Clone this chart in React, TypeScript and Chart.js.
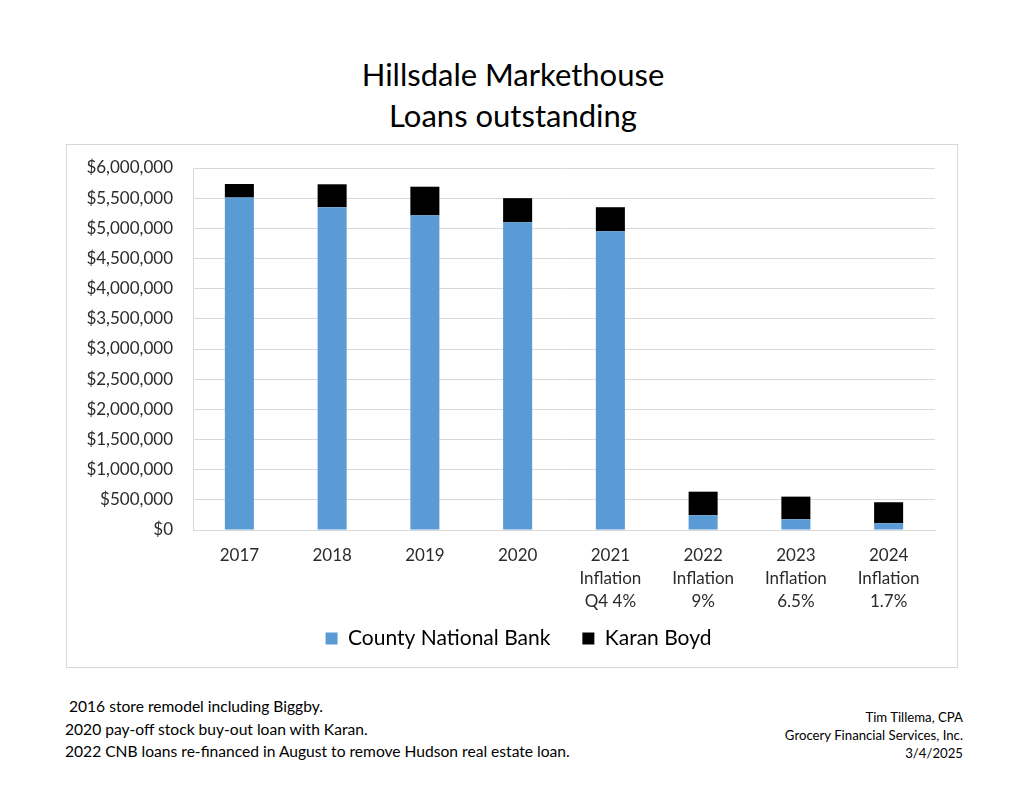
import React, { useEffect, useRef } from "react";
import { Chart, registerables } from "chart.js";

Chart.register(...registerables);

const FONT = "Lato, 'Open Sans', sans-serif";

const titleLines = ["Hillsdale Markethouse", "Loans outstanding"];

const categories: string[][] = [
  ["2017"],
  ["2018"],
  ["2019"],
  ["2020"],
  ["2021", "Inflation", "Q4 4%"],
  ["2022", "Inflation", "9%"],
  ["2023", "Inflation", "6.5%"],
  ["2024", "Inflation", "1.7%"],
];

const countyNationalBank = [5510000, 5350000, 5215000, 5100000, 4950000, 245000, 178000, 112000];
const karanBoyd = [225000, 380000, 475000, 400000, 400000, 390000, 375000, 348000];

const yMin = 0;
const yMax = 6000000;
const yStep = 500000;

const notesLeft = [
  " 2016 store remodel including Biggby.",
  "2020 pay-off stock buy-out loan with Karan.",
  "2022 CNB loans re-financed in August to remove Hudson real estate loan.",
];

const notesRight = ["Tim Tillema, CPA", "Grocery Financial Services, Inc.", "3/4/2025"];

const CW = 892;
const CH = 524;
const X_AXIS_H = 88;
const LEGEND_SHIFT_Y = -22;
const LEGEND_SHIFT_X = 18;

const legendShift = {
  id: "legendShift",
  afterLayout(chart: any) {
    const l = chart.legend;
    if (!l) return;
    l.top += LEGEND_SHIFT_Y;
    l.bottom += LEGEND_SHIFT_Y;
    l.left += LEGEND_SHIFT_X;
    l.right += LEGEND_SHIFT_X;
  },
};

export default function App() {
  const canvasRef = useRef<HTMLCanvasElement | null>(null);

  useEffect(() => {
    const canvas = canvasRef.current;
    if (!canvas) return;
    const chart = new Chart(canvas, {
      type: "bar",
      data: {
        labels: categories,
        datasets: [
          {
            label: "County National Bank",
            data: countyNationalBank,
            backgroundColor: "#5B9BD5",
            borderWidth: 0,
          },
          {
            label: "Karan Boyd",
            data: karanBoyd,
            backgroundColor: "#000000",
            borderWidth: 0,
          },
        ],
      },
      plugins: [legendShift],
      options: {
        animation: false,
        responsive: false,
        maintainAspectRatio: false,
        devicePixelRatio: 1,
        layout: { padding: { left: 0, right: 23, top: 24, bottom: CH - 24 - 362 - X_AXIS_H - 63 } },
        datasets: { bar: { categoryPercentage: 1, barPercentage: 0.313 } },
        scales: {
          x: {
            stacked: true,
            grid: { display: false, drawTicks: false },
            border: { display: true, color: "#d9d9d9", width: 1 },
            ticks: {
              font: { family: FONT, size: 17, lineHeight: 1.35 },
              color: "#2b2b2b",
              padding: 14,
              maxRotation: 0,
              autoSkip: false,
            },
            afterFit: (scale: any) => {
              scale.height = X_AXIS_H;
            },
          },
          y: {
            stacked: true,
            min: yMin,
            max: yMax,
            grid: {
              color: "#d9d9d9",
              lineWidth: 1,
              drawTicks: true,
              tickLength: 16,
              tickColor: "rgba(0,0,0,0)",
            },
            border: { display: true, color: "#d9d9d9", width: 1 },
            ticks: {
              stepSize: yStep,
              font: { family: FONT, size: 17 },
              color: "#2b2b2b",
              padding: 4,
              callback: (v: any) => "$" + Number(v).toLocaleString("en-US"),
            },
            afterFit: (scale: any) => {
              scale.width = 127;
            },
          },
        },
        plugins: {
          title: { display: false },
          tooltip: { enabled: false },
          legend: {
            display: true,
            position: "bottom",
            labels: {
              boxWidth: 12,
              boxHeight: 12,
              padding: 32,
              color: "#000000",
              font: { family: FONT, size: 21 },
            },
          },
        },
      },
    });
    return () => chart.destroy();
  }, []);

  return (
    <div
      style={{
        position: "absolute",
        left: 0,
        top: 0,
        width: 1024,
        height: 791,
        overflow: "hidden",
        background: "#ffffff",
        fontFamily: FONT,
        color: "#000000",
      }}
    >
      <div
        style={{
          position: "absolute",
          left: 0,
          top: 54,
          width: 1026,
          textAlign: "center",
          fontSize: 31,
          lineHeight: "41px",
        }}
      >
        {titleLines.map((t, i) => (
          <div key={i}>{t}</div>
        ))}
      </div>
      <div
        style={{
          position: "absolute",
          left: 66,
          top: 144,
          width: CW,
          height: CH,
          boxSizing: "border-box",
          border: "1.5px solid #d9d9d9",
        }}
      />
      <canvas
        ref={canvasRef}
        width={CW}
        height={CH}
        style={{ position: "absolute", left: 66, top: 144, width: CW, height: CH }}
      />
      <div
        style={{
          position: "absolute",
          left: 65,
          top: 695,
          fontSize: 15.6,
          lineHeight: "22.5px",
          whiteSpace: "pre",
        }}
      >
        {notesLeft.map((t, i) => (
          <div key={i}>{t}</div>
        ))}
      </div>
      <div
        style={{
          position: "absolute",
          right: 1024 - 963,
          top: 708,
          fontSize: 13.2,
          lineHeight: "18px",
          textAlign: "right",
          whiteSpace: "pre",
        }}
      >
        {notesRight.map((t, i) => (
          <div key={i}>{t}</div>
        ))}
      </div>
    </div>
  );
}
